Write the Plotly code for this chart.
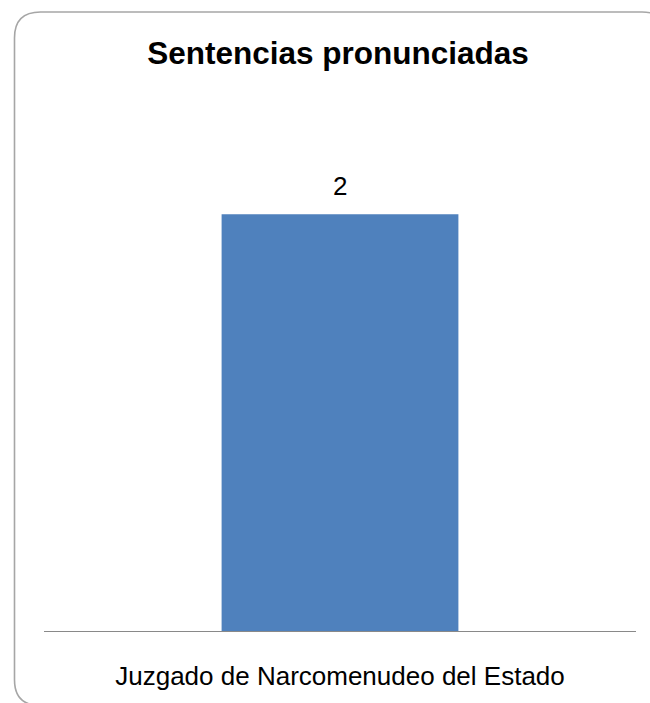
import plotly.graph_objects as go

categories = ["Juzgado de Narcomenudeo del Estado"]
values = [2]
title_text = "Sentencias pronunciadas"

W, H = 650, 703
ML, MR, MT, MB = 44, 14, 110, 69
PW, PH = W - ML - MR, H - MT - MB


def px(x):
    return (x - ML) / PW


def py(y):
    return (H - MB - y) / PH


# rounded border (pixel geometry converted to paper coords)
L, T, R, B, r = 14.5, 11.5, 668, 709, 26
pts = [
    ("M", [(L + r, T)]),
    ("L", [(R - r, T)]),
    ("Q", [(R, T), (R, T + r)]),
    ("L", [(R, B - r)]),
    ("Q", [(R, B), (R - r, B)]),
    ("L", [(L + r, B)]),
    ("Q", [(L, B), (L, B - r)]),
    ("L", [(L, T + r)]),
    ("Q", [(L, T), (L + r, T)]),
]
path = ""
for cmd, ps in pts:
    path += cmd + " " + " ".join(f"{px(a):.5f},{py(b):.5f}" for a, b in ps) + " "
path += "Z"

fig = go.Figure(
    go.Bar(
        x=categories,
        y=values,
        marker=dict(color="#4F81BD", line=dict(width=0)),
        hoverinfo="skip",
    )
)

for c, v in zip(categories, values):
    fig.add_annotation(
        x=c, y=v, text=str(v), showarrow=False, yanchor="bottom", yshift=11,
        font=dict(family="Liberation Sans", size=26, color="#000000"),
    )

fig.add_shape(type="path", path=path, xref="paper", yref="paper",
              line=dict(color="#A6A6A6", width=1.6), layer="above")

fig.update_layout(
    width=W, height=H,
    margin=dict(l=ML, r=MR, t=MT, b=MB),
    paper_bgcolor="white", plot_bgcolor="white",
    bargap=0.6,
    showlegend=False,
    title=dict(text=f"<b>{title_text}</b>", x=0.52, xanchor="center",
               y=1 - 53 / H, yanchor="middle", yref="container",
               font=dict(family="Liberation Sans", size=31.5, color="#000000")),
    xaxis=dict(showline=True, linecolor="#898989", linewidth=1, ticks="",
               showgrid=False, zeroline=False, ticklabelstandoff=22,
               tickfont=dict(family="Liberation Sans", size=26, color="#000000")),
    yaxis=dict(visible=False, range=[0, 2.5], showgrid=False, zeroline=False),
)

fig.write_html(
    "out.html",
    config={"displayModeBar": False},
    post_script="document.body.style.margin='0';",
)
